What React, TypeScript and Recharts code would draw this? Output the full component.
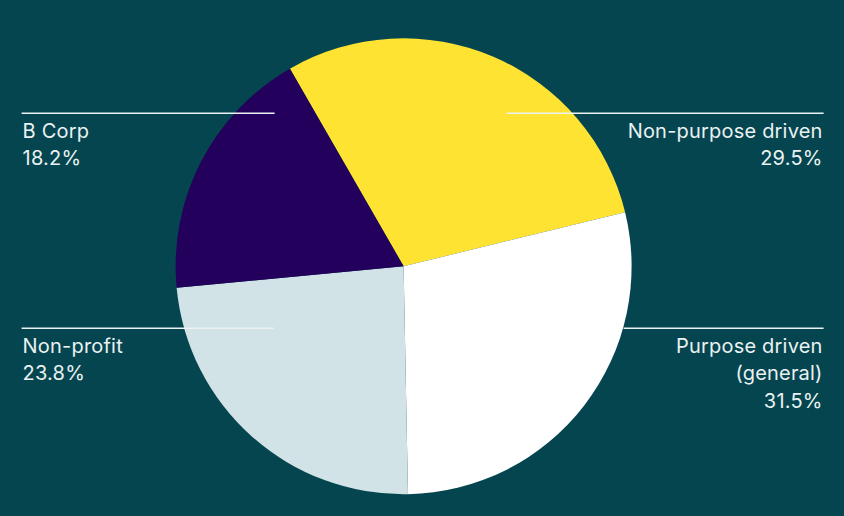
import { Cell, Pie, PieChart } from "recharts";

// slice sizes as drawn (the shares the wedges actually cover)
const categories = ["Non-purpose driven", "Purpose driven\n(general)", "Non-profit", "B Corp"];
const sliceValues = [29.5, 28.5, 23.8, 18.2];
// percentages printed in the labels
const labelPcts = ["29.5%", "31.5%", "23.8%", "18.2%"];
const colors = ["#FFE333", "#FFFFFF", "#D1E3E6", "#22005B"];

const data = categories.map((name, i) => ({ name, value: sliceValues[i] }));

const BG = "#05454F";
const TEXT = "#EAF2F2";

// label placement per slice: side, row (top/bottom), inner end of the rule
const labelLayout = [
  { side: "right", row: "top", inner: 103 },
  { side: "right", row: "bottom", inner: 220 },
  { side: "left", row: "bottom", inner: -130 },
  { side: "left", row: "top", inner: -129 },
];

function SliceLabel(props: any) {
  const { cx, cy, index } = props;
  const lay = labelLayout[index];
  const lineY = lay.row === "top" ? cy - 153 : cy + 62;
  const outerX = lay.side === "left" ? cx - 382 : cx + 420;
  const innerX = cx + lay.inner;
  const textX = lay.side === "left" ? outerX + 1 : outerX - 1;
  const lines = [...categories[index].split("\n"), labelPcts[index]];
  return (
    <g>
      <line x1={outerX} x2={innerX} y1={lineY} y2={lineY} stroke={TEXT} strokeWidth={1.5} />
      <text
        x={textX}
        y={lineY + 24.5}
        fill={TEXT}
        fontSize={20}
        letterSpacing={0.2}
        fontFamily="Inter, 'Noto Sans', sans-serif"
        textAnchor={lay.side === "left" ? "start" : "end"}
      >
        {lines.map((t, i) => (
          <tspan key={i} x={textX} dy={i === 0 ? 0 : 27.5}>
            {t}
          </tspan>
        ))}
      </text>
    </g>
  );
}

export default function App() {
  return (
    <div style={{ width: 844, height: 516, background: BG }}>
      <style>{`body{margin:0}`}</style>
      <PieChart width={844} height={516} margin={{ top: 0, right: 0, bottom: 0, left: 0 }}>
        <Pie
          data={data}
          dataKey="value"
          nameKey="name"
          cx={403.6}
          cy={266.3}
          outerRadius={228}
          startAngle={119.9}
          endAngle={-240.1}
          stroke="none"
          label={SliceLabel}
          labelLine={false}
          isAnimationActive={false}
        >
          {data.map((d, i) => (
            <Cell key={d.name} fill={colors[i]} />
          ))}
        </Pie>
      </PieChart>
    </div>
  );
}
